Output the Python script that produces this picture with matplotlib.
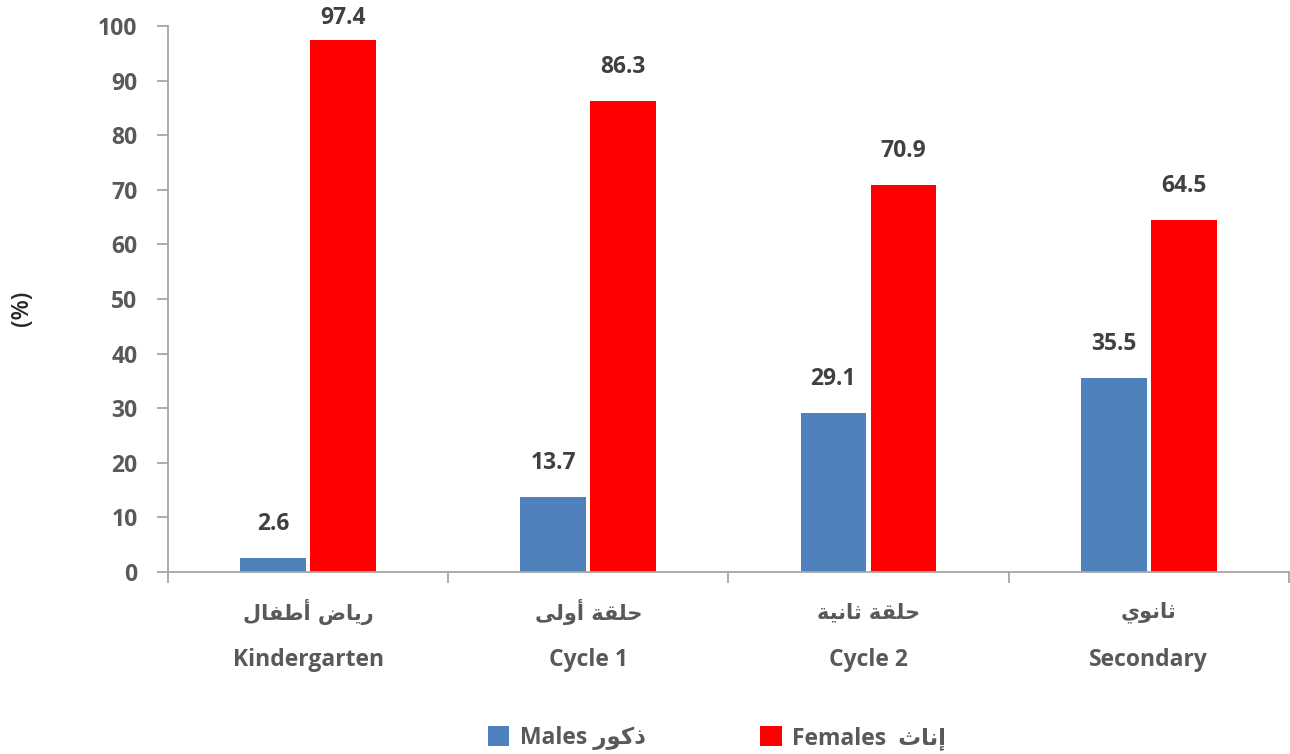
import matplotlib
matplotlib.use("Agg")
import matplotlib.pyplot as plt
import matplotlib.transforms as mtransforms
from matplotlib.patches import Patch
import numpy as np

# ---- data ----
categories_ar = [
    "\uFEDD\uFE8E\uFED4\uFEC3\uFE83 \uFEBD\uFE8E\uFEF3\uFEAD",   # رياض أطفال (visual order)
    "\uFEF0\uFEDF\uFEED\uFE83 \uFE94\uFED8\uFEE0\uFEA3",          # حلقة أولى
    "\uFE94\uFEF4\uFEE7\uFE8E\uFE9B \uFE94\uFED8\uFEE0\uFEA3",    # حلقة ثانية
    "\uFEF1\uFEEE\uFEE7\uFE8E\uFE9B",                             # ثانوي
]
categories_en = ["Kindergarten", "Cycle 1", "Cycle 2", "Secondary"]
males = [2.6, 13.7, 29.1, 35.5]
females = [97.4, 86.3, 70.9, 64.5]
legend_males = "Males \uFEAD\uFEEE\uFEDB\uFEAB"          # Males ذكور
legend_females = "Females  \uFE99\uFE8E\uFEE7\uFE87"     # Females  إناث
y_ticks = [0, 10, 20, 30, 40, 50, 60, 70, 80, 90, 100]

# ---- style ----
FAM = ["Open Sans", "DejaVu Sans"]
TXT = "#595959"
BLUE = "#4F81BD"
RED = "#FF0000"
GRID = "#A6A6A6"
FS = 16.5

fig = plt.figure(figsize=(12.9, 7.54), dpi=100)
ax = fig.add_axes([168/1290, 1 - 572/754, 1 - 168/1290 - 0.001, (572 - 26)/754])

x = np.arange(len(categories_en))
w = 0.235
off = 0.125
ax.bar(x - off, males, width=w, color=BLUE, zorder=2)
ax.bar(x + off, females, width=w, color=RED, zorder=2)

ax.set_xlim(-0.5, len(categories_en) - 0.5)
ax.set_ylim(0, 100)

for s in ["top", "right"]:
    ax.spines[s].set_visible(False)
for s in ["left", "bottom"]:
    ax.spines[s].set_color(GRID)
    ax.spines[s].set_linewidth(1.3)

ax.set_yticks(y_ticks)
ax.set_yticklabels([str(t) for t in y_ticks], family=FAM, fontweight="bold",
                   fontsize=FS, color=TXT)
ax.tick_params(axis="y", length=8, width=1.3, color=GRID, pad=14)

ax.set_xticks(np.arange(-0.5, len(categories_en), 1.0))
ax.set_xticklabels([])
ax.tick_params(axis="x", length=8, width=1.3, color=GRID)

# value labels
px_per_unit = (572 - 26) / 100.0
for vals, sign in ((males, -1), (females, 1)):
    for i, v in enumerate(vals):
        xi = i + sign * off
        yl = min(v + 34 / px_per_unit, 101.5)
        ax.text(xi, yl, f"{v:.1f}", ha="center", va="center", family=FAM,
                fontweight="bold", fontsize=FS, color="#404040", clip_on=False)

# category labels
trans = mtransforms.blended_transform_factory(ax.transData, fig.transFigure)
for i in range(len(categories_en)):
    ax.text(i, 1 - 612/754, categories_ar[i], transform=trans, ha="center",
            va="center", family=["DejaVu Sans"], fontweight="bold",
            fontsize=15, color=TXT)
    ax.text(i, 1 - 660/754, categories_en[i], transform=trans, ha="center",
            va="center", family=FAM, fontweight="bold", fontsize=FS, color=TXT)

# y label
fig.text(22/1290, 1 - 308/754, "(%)", rotation=90, ha="center", va="center",
         family=FAM, fontweight="semibold", fontsize=17, color="#262626")

# legend
handles = [Patch(facecolor=BLUE, label=legend_males),
           Patch(facecolor=RED, label=legend_females)]
leg = fig.legend(handles=handles, loc="center",
                 bbox_to_anchor=(717/1290, 1 - 738/754), ncol=2, frameon=False,
                 handlelength=0.95, handleheight=0.95, handletextpad=0.45,
                 columnspacing=5.0,
                 prop={"family": FAM, "weight": "bold", "size": FS})
for t in leg.get_texts():
    t.set_color(TXT)

fig.savefig("out.png", dpi=100)
